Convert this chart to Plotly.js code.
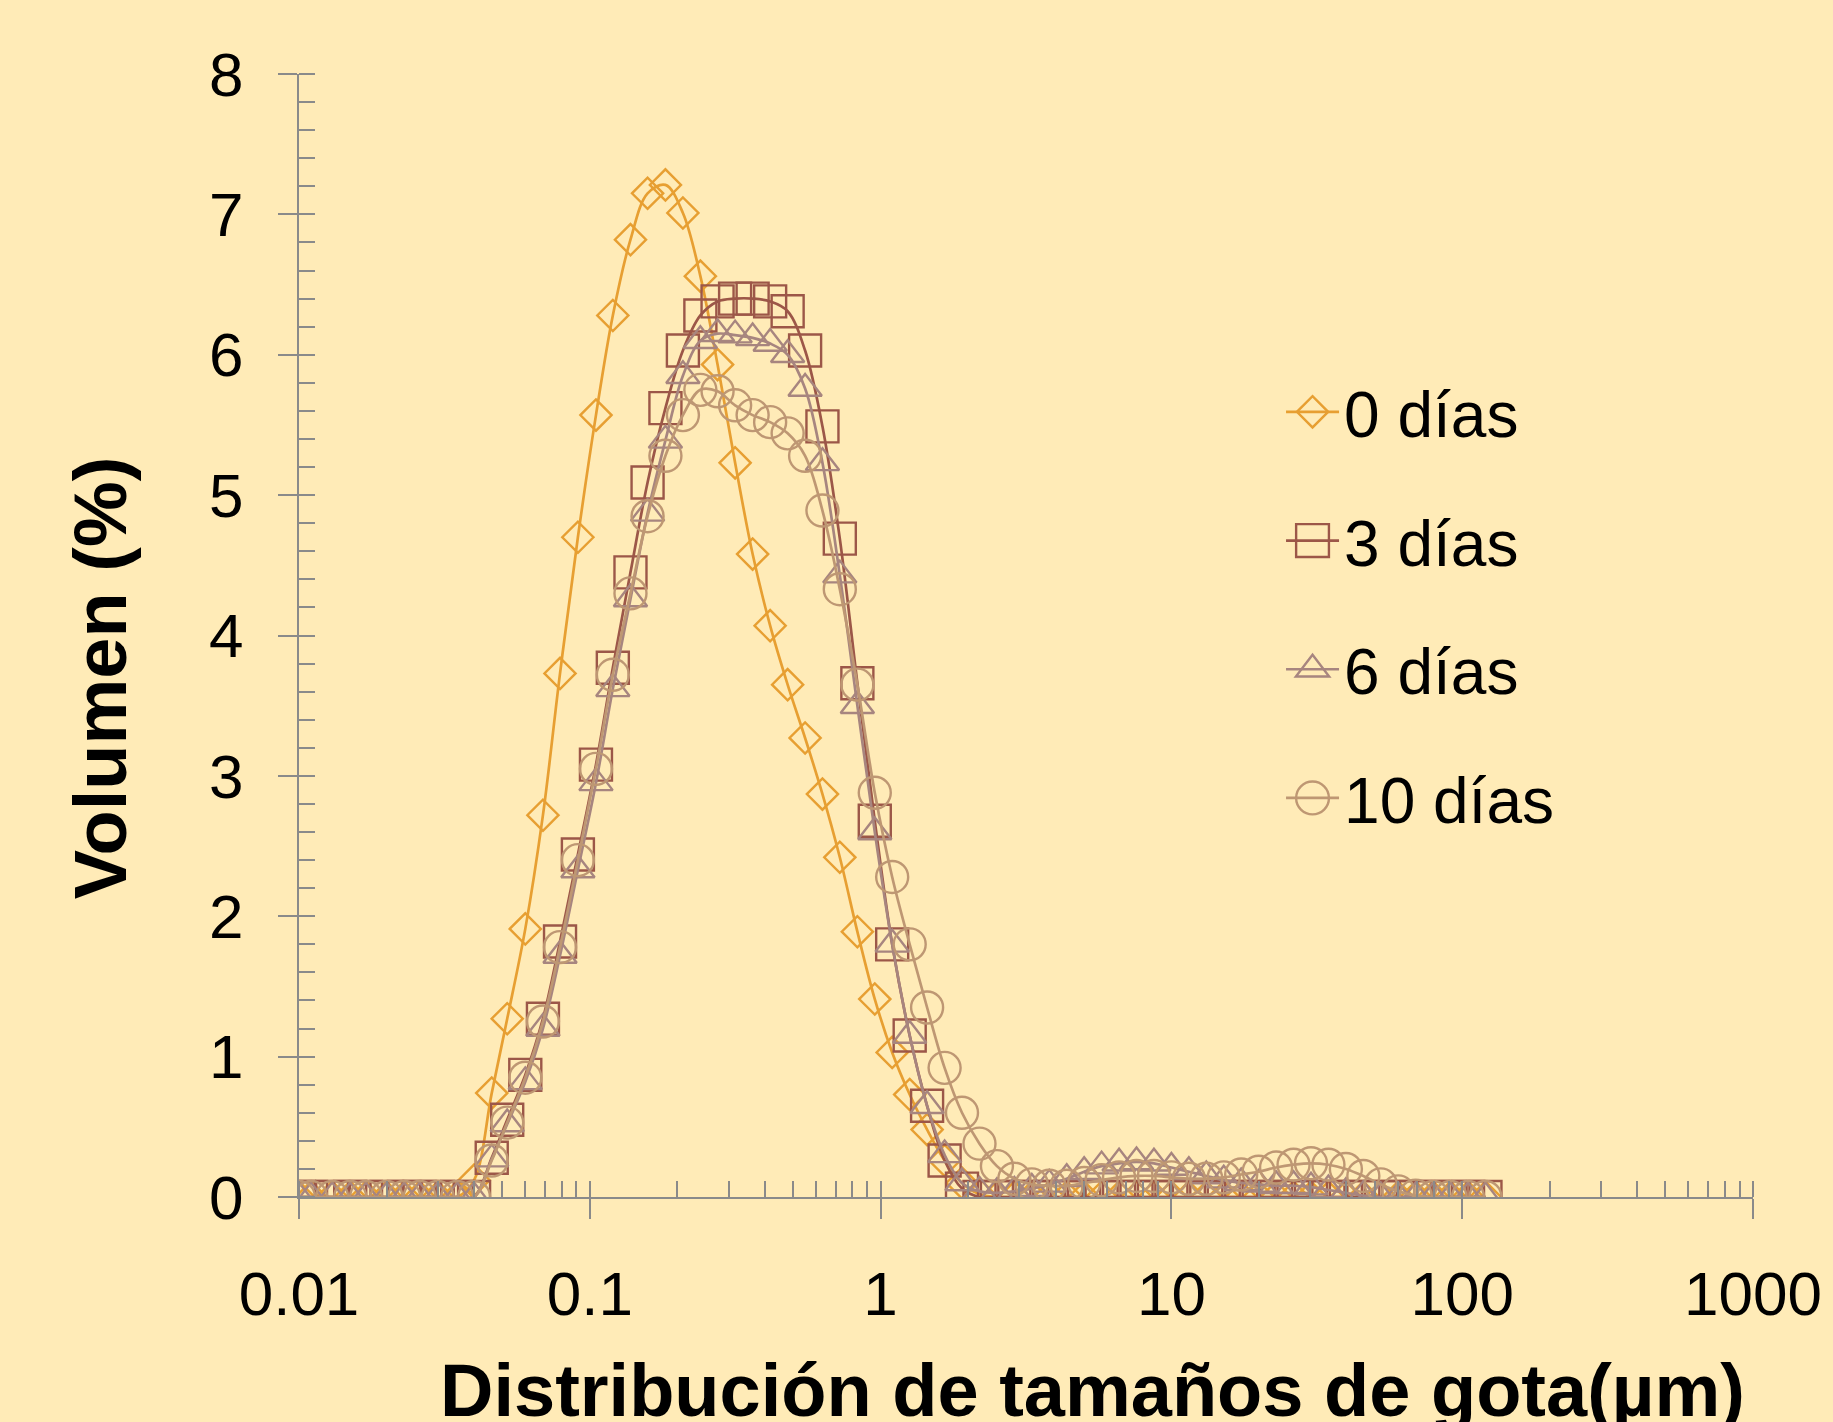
<!DOCTYPE html>
<html>
<head>
<meta charset="utf-8">
<script src="https://cdn.plot.ly/plotly-3.0.1.min.js"></script>
<style>html,body{margin:0;padding:0;background:#FFEBB7;}#chart{width:1833px;height:1422px;}</style>
</head>
<body>
<div id="chart"></div>
<script>
// Droplet size classes (µm)
const sizes = [0.010, 0.011, 0.013, 0.015, 0.017, 0.020, 0.023, 0.026, 0.030, 0.035,
  0.040, 0.046, 0.052, 0.060, 0.069, 0.079, 0.091, 0.105, 0.120, 0.138,
  0.158, 0.182, 0.209, 0.240, 0.275, 0.316, 0.363, 0.417, 0.479, 0.550,
  0.631, 0.724, 0.832, 0.955, 1.096, 1.259, 1.445, 1.660, 1.905, 2.188,
  2.512, 2.884, 3.311, 3.802, 4.365, 5.012, 5.754, 6.607, 7.586, 8.710,
  10.000, 11.482, 13.183, 15.136, 17.378, 19.953, 22.909, 26.303, 30.200, 34.674,
  39.811, 45.709, 52.481, 60.256, 69.183, 79.433, 91.201, 104.713, 120.226];

// Volume (%) per series
const dias0 = [0, 0, 0, 0, 0, 0, 0, 0, 0, 0,
  0.12, 0.74, 1.27, 1.91, 2.72, 3.73, 4.70, 5.57, 6.28, 6.82,
  7.15, 7.21, 7.01, 6.56, 5.93, 5.23, 4.58, 4.07, 3.65, 3.27,
  2.87, 2.42, 1.89, 1.41, 1.03, 0.73, 0.48, 0.26, 0.10, 0.02,
  0, 0, 0, 0, 0, 0, 0, 0, 0, 0,
  0, 0, 0, 0, 0, 0, 0, 0, 0, 0,
  0, 0, 0, 0, 0, 0, 0, 0, 0];
const dias3 = [0, 0, 0, 0, 0, 0, 0, 0, 0, 0,
  0, 0.28, 0.55, 0.87, 1.27, 1.82, 2.44, 3.08, 3.77, 4.45,
  5.09, 5.62, 6.03, 6.28, 6.38, 6.40, 6.40, 6.38, 6.31, 6.03,
  5.49, 4.69, 3.66, 2.68, 1.80, 1.15, 0.65, 0.26, 0.06, 0,
  0, 0, 0, 0, 0, 0, 0, 0, 0, 0,
  0, 0, 0, 0, 0, 0, 0, 0, 0, 0,
  0, 0, 0, 0, 0, 0, 0, 0, 0];
const dias6 = [0, 0, 0, 0, 0, 0, 0, 0, 0, 0,
  0, 0.27, 0.52, 0.82, 1.20, 1.72, 2.33, 2.95, 3.62, 4.26,
  4.87, 5.39, 5.85, 6.10, 6.15, 6.14, 6.12, 6.08, 6.00, 5.76,
  5.23, 4.43, 3.50, 2.60, 1.80, 1.15, 0.65, 0.30, 0.10, 0.04,
  0.03, 0.04, 0.06, 0.09, 0.13, 0.18, 0.22, 0.24, 0.25, 0.24,
  0.21, 0.18, 0.15, 0.12, 0.10, 0.09, 0.08, 0.08, 0.07, 0.05,
  0.03, 0.01, 0, 0, 0, 0, 0, 0, 0];
const dias10 = [0, 0, 0, 0, 0, 0, 0, 0, 0, 0,
  0, 0.26, 0.53, 0.85, 1.25, 1.78, 2.40, 3.05, 3.72, 4.30,
  4.85, 5.28, 5.57, 5.75, 5.74, 5.64, 5.57, 5.52, 5.44, 5.28,
  4.89, 4.33, 3.65, 2.88, 2.28, 1.80, 1.35, 0.92, 0.60, 0.38,
  0.22, 0.13, 0.09, 0.08, 0.08, 0.10, 0.12, 0.14, 0.15, 0.15,
  0.14, 0.13, 0.13, 0.14, 0.16, 0.18, 0.21, 0.23, 0.24, 0.23,
  0.20, 0.15, 0.09, 0.04, 0.01, 0, 0, 0, 0];

const seriesNames = ['0 días', '3 días', '6 días', '10 días'];
const seriesData = [dias0, dias3, dias6, dias10];
const xTickVals = [0.01, 0.1, 1, 10, 100, 1000];
const xTickText = ['0.01', '0.1', '1', '10', '100', '1000'];
const yTickVals = [0, 1, 2, 3, 4, 5, 6, 7, 8];

const colors = ['#E79F32', '#9C5748', '#A7857F', '#BE9773'];
const symbols = ['diamond-open', 'square-open', 'triangle-up-open', 'circle-open'];
const msizes = [24, 32, 29, 32];
const legendScale = [1.5, 2.05, 1.8, 2.05];

const FONT = 'Liberation Sans, Arial, Helvetica, sans-serif';
const BG = '#FFEBB7';
const AX = '#8A8A8A';

const traces = seriesData.map((d, i) => ({
  type: 'scatter', mode: 'lines+markers', name: seriesNames[i],
  x: sizes, y: d, legendgroup: 'g' + i,
  line: {color: colors[i], width: 2.7, shape: 'spline', smoothing: 1},
  marker: {symbol: symbols[i], size: msizes[i], color: colors[i], line: {width: 2.4, color: colors[i]}},
  hoverinfo: 'x+y'
}));

const layout = {
  width: 1833, height: 1422,
  paper_bgcolor: BG, plot_bgcolor: BG,
  margin: {l: 299, r: 79.5, t: 74, b: 225},
  font: {family: FONT, color: '#000000', size: 62},
  showlegend: true,
  legend: {x: 0.6754, y: 0.742, xanchor: 'left', yanchor: 'top', bgcolor: 'rgba(0,0,0,0)',
    font: {family: FONT, size: 64, color: '#000'}, itemwidth: 53, tracegroupgap: 42.5,
    itemclick: false, itemdoubleclick: false},
  xaxis: {type: 'log', range: [-2, 3], tickmode: 'array', tickvals: xTickVals, ticktext: xTickText,
    ticks: 'outside', ticklen: 20, tickwidth: 2, tickcolor: AX,
    showline: true, linecolor: AX, linewidth: 2, showgrid: false, zeroline: false,
    tickfont: {family: FONT, size: 62, color: '#000'}, ticklabelstandoff: 22,
    minor: {ticks: 'inside', ticklen: 16, tickwidth: 2, tickcolor: AX, dtick: 'D1', showgrid: false},
    fixedrange: true},
  xaxis2: {type: 'log', range: [-2, 3], overlaying: 'x', anchor: 'y', side: 'bottom',
    tickmode: 'array', tickvals: xTickVals, ticks: 'inside', ticklen: 16, tickwidth: 2, tickcolor: AX,
    showticklabels: false, showline: false, showgrid: false, zeroline: false, fixedrange: true},
  yaxis: {range: [0, 8], tickmode: 'array', tickvals: yTickVals,
    ticks: 'outside', ticklen: 19, tickwidth: 2, tickcolor: AX,
    showline: true, linecolor: AX, linewidth: 2, showgrid: false, zeroline: false,
    tickfont: {family: FONT, size: 62, color: '#000'}, ticklabelstandoff: 22,
    minor: {ticks: 'inside', ticklen: 16, tickwidth: 2, tickcolor: AX, dtick: 0.2, showgrid: false},
    fixedrange: true},
  yaxis2: {range: [0, 8], overlaying: 'y', anchor: 'x', side: 'left',
    tickmode: 'array', tickvals: yTickVals, ticks: 'inside', ticklen: 16, tickwidth: 2, tickcolor: AX,
    showticklabels: false, showline: false, showgrid: false, zeroline: false, fixedrange: true},
  annotations: [
    {text: '<b>Distribución de tamaños de gota(µm)</b>', xref: 'paper', yref: 'paper',
      x: 0.546, y: -0.172, xanchor: 'center', yanchor: 'middle', showarrow: false,
      font: {family: FONT, size: 74, color: '#000'}},
    {text: '<b>Volumen (%)</b>', xref: 'paper', yref: 'paper', textangle: -90,
      x: -0.1368, y: 0.462, xanchor: 'center', yanchor: 'middle', showarrow: false,
      font: {family: FONT, size: 74, color: '#000'}}
  ]
};

Plotly.newPlot('chart', traces, layout, {displayModeBar: false}).then(gd => {
  // enlarge legend symbols to match the plotted marker size
  const items = gd.querySelectorAll('.legend .traces');
  items.forEach((item, i) => {
    item.querySelectorAll('.legendpoints path.scatterpts').forEach(p => {
      const t = p.getAttribute('transform') || '';
      p.setAttribute('transform', t + ' scale(' + legendScale[i] + ')');
      p.style.vectorEffect = 'non-scaling-stroke';
    });
  });
});
</script>
</body>
</html>
